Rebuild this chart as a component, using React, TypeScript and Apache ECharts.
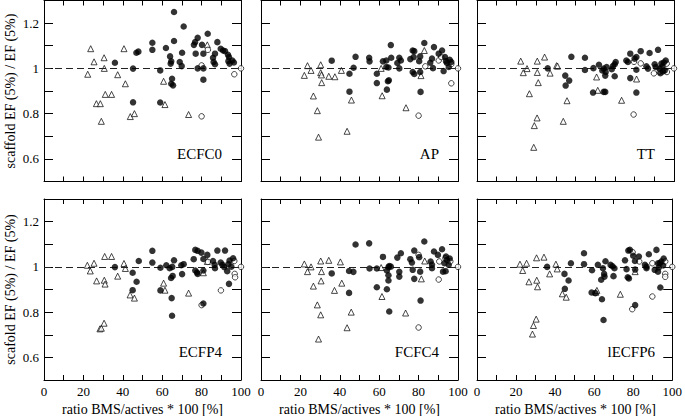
import React, { useEffect, useRef } from "react";
import * as echarts from "echarts";

// ---------- DATA (x = ratio BMS/actives * 100 [%], y = scaffold EF(5%) / EF(5%)) ----------
const PANEL_NAMES = ["ECFC0", "AP", "TT", "ECFP4", "FCFC4", "lECFP6"];
const X_TICK_LABELS = ["0", "20", "40", "60", "80", "100"];
const Y_TICK_LABELS = ["0.6", "0.8", "1", "1.2"];
const Y_TITLES = ["scaffold EF (5%) / EF (5%)", "scafold EF (5%) / EF (5%)"];
const X_TITLE = "ratio BMS/actives * 100 [%]";

const ecfc0Filled = [
  [36.0, 1.025], [45.2, 0.999], [45.2, 0.85], [46.9, 1.069], [47.9, 1.074], [55.0, 1.113], [55.0, 1.082],
  [59.0, 0.991], [59.0, 0.849], [61.9, 1.09], [64.0, 1.053], [64.6, 1.031], [64.3, 1.021], [65.0, 0.954],
  [64.6, 0.932], [65.5, 0.925], [66.0, 1.249], [66.0, 1.121], [70.1, 1.069], [68.9, 1.028], [69.9, 1.01],
  [70.9, 1.185], [76.7, 1.116], [78.0, 1.135], [76.1, 1.104], [77.0, 1.065], [78.0, 1.0], [80.9, 1.065],
  [80.9, 1.0], [80.9, 0.95], [83.1, 1.153], [85.8, 1.047], [86.1, 1.028], [86.8, 1.065], [86.8, 1.018],
  [88.0, 1.116], [89.7, 1.087], [90.9, 1.079], [91.9, 1.076], [93.4, 1.06], [93.9, 1.05], [93.6, 1.032],
  [94.2, 1.021], [95.6, 1.035], [96.4, 1.026], [80.2, 1.104],
];
const ecfc0Open = [[83.2, 1.082], [80.0, 1.013], [80.0, 0.788], [96.6, 0.974], [100, 1.0]];
const ecfc0Tri = [
  [23.7, 1.087], [22.2, 0.974], [25.4, 1.029], [30.5, 1.047], [30.6, 1.0], [26.6, 0.844], [28.6, 0.844],
  [29.1, 0.766], [31.1, 0.885], [34.3, 0.885], [37.4, 0.972], [40.6, 1.087], [41.3, 0.932], [43.8, 0.787],
  [45.9, 0.8], [60.7, 0.943], [61.4, 0.84], [73.4, 0.796], [82.9, 1.104],
];

const apFilled = [
  [35.9, 1.034], [44.9, 0.976], [44.9, 0.897], [47.0, 1.003], [48.0, 1.051], [54.9, 1.047], [55.1, 1.031],
  [58.8, 0.976], [58.8, 0.935], [61.9, 1.031], [63.6, 1.035], [63.6, 1.006], [64.7, 1.004], [64.4, 0.943],
  [64.9, 0.947], [63.9, 0.906], [65.9, 1.103], [66.1, 1.047], [69.2, 1.024], [70.2, 1.047], [71.0, 1.035],
  [70.2, 1.0], [75.8, 1.041], [77.0, 1.079], [77.8, 1.076], [77.5, 1.05], [77.0, 0.984], [77.8, 0.975],
  [80.3, 1.032], [80.8, 1.053], [80.8, 0.984], [81.0, 0.896], [82.9, 1.112], [85.9, 1.025], [86.8, 1.043],
  [87.3, 1.001], [87.8, 1.094], [90.2, 1.065], [91.9, 1.079], [92.7, 0.988], [93.4, 1.05], [93.9, 1.032],
  [94.4, 1.024], [95.3, 1.006], [95.8, 1.038], [96.6, 1.028],
];
const apOpen = [[80.0, 0.791], [83.4, 1.009], [90.2, 1.035], [91.5, 1.05], [96.6, 1.019], [96.6, 0.934], [100, 1.0]];
const apTri = [
  [22.0, 0.969], [23.6, 1.012], [25.4, 0.991], [30.3, 1.016], [30.3, 0.981], [30.7, 0.971], [30.8, 0.937],
  [26.6, 0.878], [28.6, 0.813], [29.2, 0.696], [34.4, 0.965], [37.5, 0.963], [40.8, 0.991], [43.7, 0.722],
  [45.9, 0.86], [61.0, 1.0], [61.5, 0.879], [73.6, 0.826], [81.2, 0.968], [82.9, 1.079],
];

const ttFilled = [
  [35.9, 1.0], [44.8, 0.968], [46.8, 0.946], [45.0, 0.924], [47.9, 1.051], [54.8, 1.047], [54.8, 0.993],
  [58.9, 0.893], [59.1, 1.001], [61.9, 1.016], [63.6, 0.991], [64.3, 0.999], [64.3, 0.896], [65.1, 0.896],
  [65.1, 0.968], [65.8, 1.006], [65.3, 0.984], [68.4, 0.996], [69.0, 1.01], [69.9, 1.018], [70.4, 1.028],
  [69.9, 0.965], [75.8, 1.035], [76.6, 1.028], [77.8, 0.957], [77.8, 1.065], [80.0, 1.043], [80.9, 1.05],
  [80.9, 0.994], [80.9, 0.893], [83.1, 1.076], [86.0, 1.009], [86.8, 0.999], [87.6, 1.068], [90.2, 1.018],
  [90.7, 1.006], [91.9, 1.082], [92.7, 0.999], [93.1, 0.979], [93.6, 1.021], [94.1, 1.009], [94.8, 1.026],
  [95.3, 0.991], [95.8, 1.035], [94.4, 0.986],
];
const ttOpen = [[79.5, 0.796], [79.7, 1.029], [83.1, 1.022], [89.8, 0.978], [92.7, 0.985], [96.3, 1.021], [96.4, 0.984], [100, 1.0]];
const ttTri = [
  [22.2, 1.032], [23.5, 0.981], [25.4, 0.999], [26.6, 0.888], [28.8, 0.651], [29.1, 0.747], [30.5, 0.781],
  [30.6, 1.032], [30.6, 0.982], [31.1, 0.937], [34.3, 1.05], [37.1, 0.979], [40.4, 1.012], [40.9, 1.01],
  [43.8, 0.766], [45.7, 0.857], [60.7, 0.962], [61.3, 0.903], [73.4, 0.859], [81.0, 0.953],
];

const ecfp4Filled = [
  [36.0, 0.999], [45.0, 0.974], [45.0, 0.897], [47.0, 0.934], [48.1, 1.026], [55.0, 1.071], [55.0, 1.019],
  [59.1, 0.996], [59.1, 0.896], [62.1, 1.007], [63.8, 0.994], [64.5, 0.951], [64.8, 0.862], [65.0, 0.784],
  [65.1, 1.0], [65.3, 0.96], [66.0, 1.029], [69.7, 1.007], [70.1, 0.968], [70.9, 1.012], [76.0, 1.034],
  [76.8, 1.075], [78.0, 1.071], [76.8, 0.984], [77.7, 0.975], [78.0, 0.969], [79.9, 1.063], [80.9, 1.035],
  [80.9, 0.984], [80.9, 0.838], [82.9, 1.053], [85.8, 1.026], [86.6, 1.009], [86.8, 0.994], [88.0, 1.072],
  [89.7, 1.019], [90.6, 1.009], [91.5, 0.999], [91.9, 1.072], [93.0, 0.981], [93.6, 1.012], [93.9, 0.925],
  [94.2, 1.028], [95.1, 1.001], [96.0, 1.038],
];
const ecfp4Open = [[80.0, 0.831], [83.2, 1.022], [89.8, 0.896], [96.8, 0.969], [97.0, 0.954], [96.6, 1.026], [100, 1.0]];
const ecfp4Tri = [
  [22.0, 1.007], [23.5, 0.982], [25.4, 1.016], [26.7, 0.938], [28.4, 0.726], [29.1, 0.729], [30.5, 0.751],
  [30.8, 1.046], [30.6, 0.941], [31.0, 0.924], [34.3, 1.046], [37.4, 0.959], [40.6, 1.015], [41.3, 0.993],
  [43.7, 0.876], [45.9, 0.862], [60.7, 0.928], [61.4, 0.897], [73.4, 0.884], [80.9, 0.974], [82.9, 1.024],
];

const fcfc4Filled = [
  [35.9, 0.971], [44.7, 0.982], [44.7, 0.885], [46.9, 0.978], [48.0, 1.099], [54.9, 1.104], [55.1, 0.993],
  [58.8, 0.993], [58.8, 0.91], [61.9, 1.044], [63.9, 0.901], [63.9, 0.984], [64.7, 0.999], [65.1, 1.004],
  [64.7, 0.963], [64.7, 0.94], [65.1, 0.803], [65.9, 1.001], [69.2, 1.041], [70.2, 0.978], [70.2, 0.957],
  [71.0, 1.06], [75.8, 1.034], [76.6, 1.019], [77.0, 0.987], [77.8, 0.947], [77.8, 1.072], [80.3, 1.043],
  [80.8, 0.979], [81.0, 0.851], [82.9, 1.112], [86.1, 1.024], [86.8, 1.009], [86.8, 0.994], [87.8, 1.068],
  [89.8, 1.053], [91.9, 1.078], [92.4, 0.979], [93.1, 1.016], [93.7, 0.981], [94.4, 1.031], [95.3, 1.009],
  [95.8, 1.037], [93.9, 1.046],
];
const fcfc4Open = [[80.0, 0.732], [80.0, 1.053], [90.2, 0.944], [90.5, 1.024], [93.6, 1.038], [96.1, 1.024], [100, 1.0]];
const fcfc4Tri = [
  [22.0, 1.013], [23.6, 0.979], [25.4, 1.0], [26.6, 0.915], [28.6, 0.832], [29.2, 0.681], [30.3, 0.788],
  [30.3, 1.026], [30.7, 0.979], [30.5, 0.938], [34.4, 1.029], [37.3, 0.896], [40.3, 1.022], [41.0, 0.928],
  [43.7, 0.731], [45.8, 0.8], [61.0, 0.997], [61.4, 0.869], [73.4, 0.796], [81.4, 0.947], [83.1, 1.026],
];

const lecfp6Filled = [
  [35.9, 1.0], [44.8, 0.969], [45.0, 0.903], [46.9, 0.94], [48.1, 1.016], [54.8, 1.06], [54.8, 1.012],
  [58.7, 0.887], [58.9, 0.985], [60.6, 0.884], [61.9, 1.009], [63.6, 0.943], [64.0, 0.857], [64.5, 0.994],
  [64.8, 0.765], [65.1, 0.969], [65.3, 0.957], [65.8, 1.025], [68.4, 1.009], [69.4, 1.003], [69.9, 0.959],
  [70.4, 0.994], [75.8, 1.029], [76.6, 0.99], [77.2, 0.954], [77.8, 0.949], [77.5, 1.072], [78.3, 1.075],
  [80.0, 1.049], [80.9, 1.026], [81.0, 0.988], [81.0, 0.831], [82.9, 1.046], [86.0, 1.009], [86.8, 1.001],
  [86.8, 0.994], [88.0, 1.056], [91.0, 0.987], [91.9, 1.075], [92.7, 0.979], [93.1, 0.997], [93.6, 1.016],
  [93.9, 0.909], [94.4, 1.024], [95.3, 1.006], [95.6, 1.037], [92.7, 1.016],
];
const lecfp6Open = [[79.7, 1.065], [79.5, 0.813], [83.1, 1.024], [89.8, 0.869], [89.8, 1.016], [96.4, 0.969], [96.4, 0.956], [96.4, 1.024], [100, 1.0]];
const lecfp6Tri = [
  [22.0, 1.012], [23.4, 0.984], [25.4, 1.016], [26.6, 0.934], [28.4, 0.703], [28.9, 0.741], [30.3, 0.769],
  [30.5, 1.04], [30.6, 0.941], [31.0, 0.912], [34.3, 1.043], [37.2, 0.969], [40.4, 1.012], [41.1, 0.991],
  [43.7, 0.881], [45.7, 0.866], [60.9, 0.888], [61.4, 0.896], [73.4, 0.879], [81.0, 0.979],
];

const PANEL_FILLED = [ecfc0Filled, apFilled, ttFilled, ecfp4Filled, fcfc4Filled, lecfp6Filled];
const PANEL_OPEN = [ecfc0Open, apOpen, ttOpen, ecfp4Open, fcfc4Open, lecfp6Open];
const PANEL_TRI = [ecfc0Tri, apTri, ttTri, ecfp4Tri, fcfc4Tri, lecfp6Tri];
const REF_LINE = 1;

// ---------- LAYOUT ----------
const FONT = "'Liberation Serif', 'DejaVu Serif', serif";
const LEFTS = [44, 261, 477];
const TOPS = [0.5, 199];
const GW = 197;
const GH = 181;

export default function App() {
  const ref = useRef<HTMLDivElement>(null);
  useEffect(() => {
    document.body.style.margin = "0";
    const chart = echarts.init(ref.current!, null, { renderer: "svg" });
    const grids: any[] = [];
    const xAxes: any[] = [];
    const yAxes: any[] = [];
    const series: any[] = [];
    const graphic: any[] = [];
    for (let i = 0; i < 6; i++) {
      const row = Math.floor(i / 3);
      const col = i % 3;
      grids.push({ left: LEFTS[col], top: TOPS[row], width: GW, height: GH });
      const axLine = { show: true, onZero: false, lineStyle: { color: "#000", width: 1 } };
      const xBase = {
        type: "value", gridIndex: i, min: 0, max: 100, interval: 10,
        axisLine: axLine, splitLine: { show: false },
        axisTick: { show: true, inside: true, length: 5, lineStyle: { color: "#000" } },
      };
      xAxes.push({
        ...xBase, position: "bottom",
        axisLabel: {
          show: row === 1, color: "#000", fontFamily: FONT, fontSize: 13, margin: 5,
          formatter: (v: number) => (X_TICK_LABELS.includes(String(v)) ? String(v) : ""),
        },
      });
      xAxes.push({ ...xBase, position: "top", axisLabel: { show: false } });
      const yBase = {
        type: "value", gridIndex: i, min: 0.5, max: 1.3, interval: 0.1,
        axisLine: axLine, splitLine: { show: false },
        axisTick: { show: true, inside: true, length: 9, lineStyle: { color: "#000" } },
      };
      yAxes.push({
        ...yBase, position: "left",
        axisLabel: {
          show: col === 0, color: "#000", fontFamily: FONT, fontSize: 13, margin: 5,
          formatter: (v: number) => {
            const s = String(Math.round(v * 10) / 10);
            return Y_TICK_LABELS.includes(s) ? s : "";
          },
        },
      });
      yAxes.push({ ...yBase, position: "right", axisLabel: { show: false } });

      const xi = 2 * i;
      series.push({
        type: "scatter", xAxisIndex: xi, yAxisIndex: xi, data: PANEL_TRI[i],
        symbol: "triangle", symbolSize: 6,
        itemStyle: { color: "#fff", borderColor: "#000", borderWidth: 0.9 },
        markLine: {
          silent: true, symbol: ["none", "none"], label: { show: false },
          lineStyle: { color: "#222", type: [7, 4], width: 1 },
          data: [{ yAxis: REF_LINE }],
        },
        z: 3,
      });
      series.push({
        type: "scatter", xAxisIndex: xi, yAxisIndex: xi, data: PANEL_OPEN[i],
        symbol: "circle", symbolSize: 5.5,
        itemStyle: { color: "#fff", borderColor: "#000", borderWidth: 0.9 },
        z: 4,
      });
      series.push({
        type: "scatter", xAxisIndex: xi, yAxisIndex: xi, data: PANEL_FILLED[i],
        symbol: "circle", symbolSize: 6.5,
        itemStyle: { color: "#000" },
        z: 5,
      });

      graphic.push({
        type: "text", x: LEFTS[col] + GW - 19, y: TOPS[row] + 153,
        style: {
          text: PANEL_NAMES[i], font: `15px ${FONT}`, fill: "#000",
          align: "right", verticalAlign: "middle", textAlign: "right", textVerticalAlign: "middle",
        },
      });
      if (row === 1) {
        graphic.push({
          type: "text", x: LEFTS[col] + GW / 2, y: 409,
          style: {
            text: X_TITLE, font: `14px ${FONT}`, fill: "#000",
            align: "center", verticalAlign: "middle", textAlign: "center", textVerticalAlign: "middle",
          },
        });
      }
    }
    for (let r = 0; r < 2; r++) {
      graphic.push({
        type: "text", x: 10, y: TOPS[r] + GH / 2, rotation: Math.PI / 2,
        style: {
          text: Y_TITLES[r], font: `14px ${FONT}`, fill: "#000",
          align: "center", verticalAlign: "middle", textAlign: "center", textVerticalAlign: "middle",
        },
      });
    }
    chart.setOption({
      animation: false,
      backgroundColor: "#fff",
      grid: grids,
      xAxis: xAxes,
      yAxis: yAxes,
      series,
      graphic,
    });
    return () => chart.dispose();
  }, []);
  return (
    <div
      ref={ref}
      style={{ position: "fixed", left: 0, top: 0, width: 685, height: 416, background: "#fff" }}
    />
  );
}
